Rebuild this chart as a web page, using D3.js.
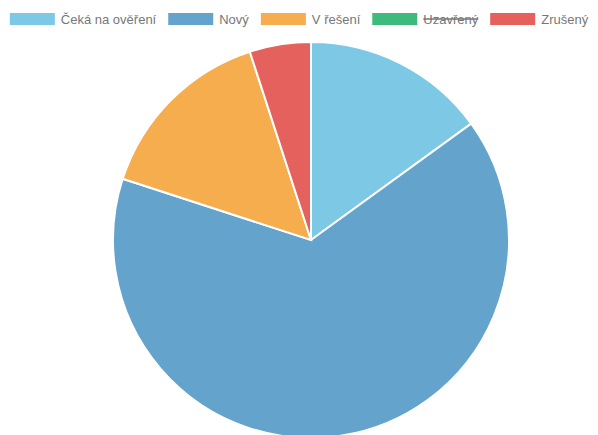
<!DOCTYPE html>
<html>
<head>
<meta charset="utf-8">
<script src="https://cdn.jsdelivr.net/npm/d3@7"></script>
<style>
  body { margin: 0; background: #fff; }
  text { font-family: "Liberation Sans", Arial, sans-serif; }
</style>
</head>
<body>
<div id="chart"></div>
<script>
// --- Stav požadavků ---
const labels = ["Čeká na ověření", "Nový", "V řešení", "Uzavřený", "Zrušený"];
const values = [3, 13, 3, 2, 1];
const hidden = [false, false, false, true, false];
const colors = ["#7dc8e5", "#64a4cc", "#f6ad4d", "#3dba7c", "#e5615d"];

const width = 598, height = 435;
const cx = 311, cy = 240, radius = 198;

const svg = d3.select("#chart")
    .append("svg")
    .attr("width", width)
    .attr("height", height);

const data = labels.map((l, i) => ({ label: l, value: values[i], hidden: hidden[i], color: colors[i] }));

const pie = d3.pie()
    .sort(null)
    .value(d => d.hidden ? 0 : d.value);

const arc = d3.arc().innerRadius(0).outerRadius(radius);

svg.append("g")
    .attr("transform", `translate(${cx},${cy})`)
    .selectAll("path")
    .data(pie(data).filter(d => !d.data.hidden))
    .enter()
    .append("path")
    .attr("d", arc)
    .attr("fill", d => d.data.color)
    .attr("stroke", "#fff")
    .attr("stroke-width", 2);

// Legend
const boxW = 45, boxH = 12, gap = 6, itemGap = 12, fontSize = 13;
const items = svg.append("g")
    .selectAll("g")
    .data(data)
    .enter()
    .append("g");

items.append("rect")
    .attr("width", boxW)
    .attr("height", boxH)
    .attr("fill", d => d.color);

items.append("text")
    .attr("x", boxW + gap)
    .attr("y", boxH / 2)
    .attr("dy", "0.35em")
    .attr("font-size", fontSize)
    .attr("fill", "#777")
    .text(d => d.label);

const textW = [];
items.each(function() {
    textW.push(d3.select(this).select("text").node().getComputedTextLength());
});
const widths = textW.map(w => boxW + gap + w);
const total = d3.sum(widths) + itemGap * (widths.length - 1);
let start = (width - total) / 2;
items.attr("transform", (d, i) => {
    const t = `translate(${start},13)`;
    start += widths[i] + itemGap;
    return t;
});

items.filter(d => d.hidden)
    .append("line")
    .attr("x1", boxW + gap)
    .attr("x2", d => boxW + gap + textW[labels.indexOf(d.label)])
    .attr("y1", boxH / 2)
    .attr("y2", boxH / 2)
    .attr("stroke", "#777")
    .attr("stroke-width", 1.5);
</script>
</body>
</html>
